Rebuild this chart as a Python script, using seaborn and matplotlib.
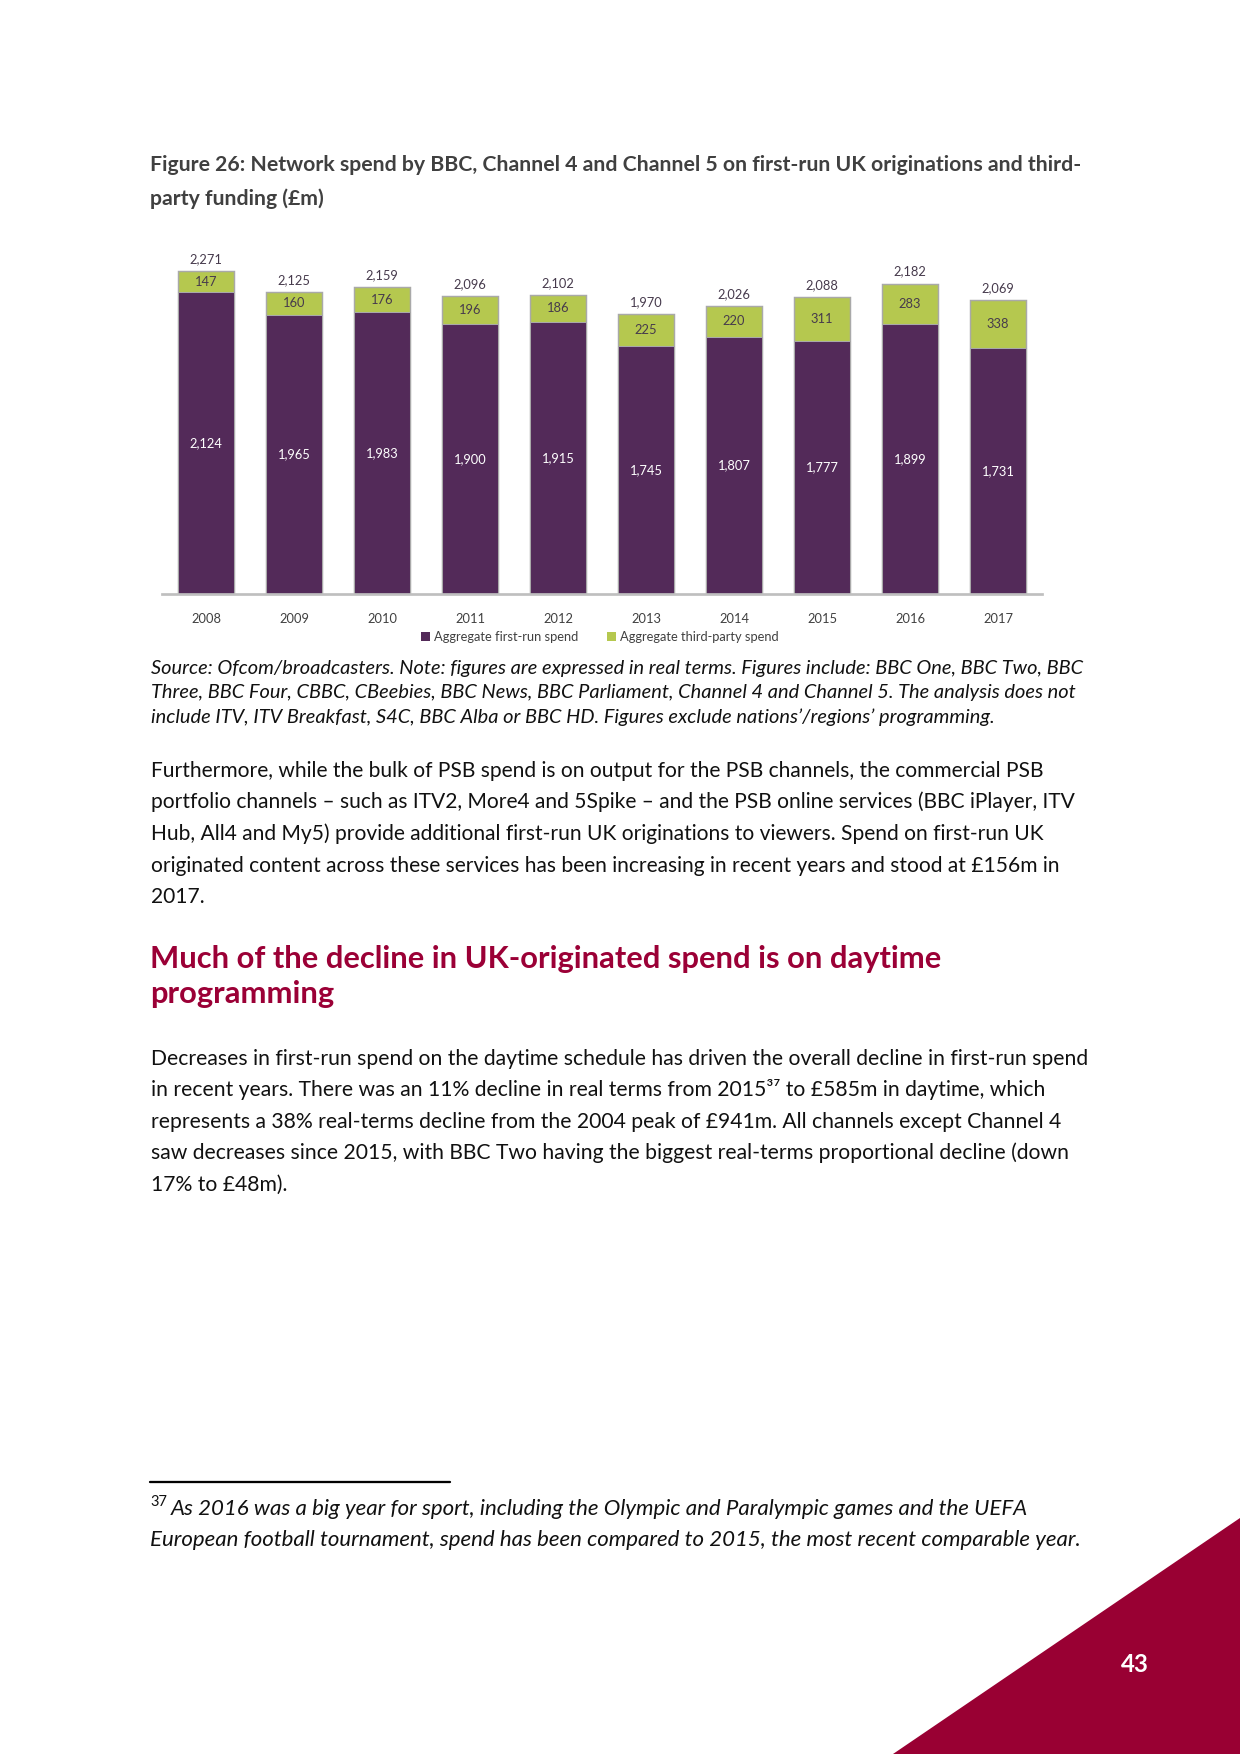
import matplotlib
matplotlib.use("Agg")
import matplotlib.pyplot as plt
import pandas as pd
import seaborn as sns
from matplotlib.patches import Patch, Polygon

W, H, DPI = 1240, 1754, 150

years = ["2008", "2009", "2010", "2011", "2012", "2013", "2014", "2015", "2016", "2017"]
first_run = [2124, 1965, 1983, 1900, 1915, 1745, 1807, 1777, 1899, 1731]
third_party = [147, 160, 176, 196, 186, 225, 220, 311, 283, 338]
totals = [2271, 2125, 2159, 2096, 2102, 1970, 2026, 2088, 2182, 2069]
legend_labels = ["Aggregate first-run spend", "Aggregate third-party spend"]

PURPLE = "#532A59"
GREEN = "#B5C84F"
CRIMSON = "#990033"

sns.set_theme(style="white")
plt.rcParams["font.family"] = ["Lato", "DejaVu Sans"]

fig = plt.figure(figsize=(W / DPI, H / DPI), dpi=DPI)
fig.patch.set_facecolor("white")


def px(x, y):
    return x / W, 1 - y / H


# chart ----------------------------------------------------------------
df = pd.DataFrame({"year": years, "first_run": first_run, "third_party": third_party})
df["stack_top"] = df["first_run"] + df["third_party"]

ymax = 2500
ax = fig.add_axes([162 / W, 1 - 594 / H, 880 / W, ymax * 0.1422 / H])
sns.barplot(data=df, x="year", y="stack_top", color=GREEN, width=0.64,
            edgecolor="#A9A9A9", linewidth=0.7, saturation=1, ax=ax)
sns.barplot(data=df, x="year", y="first_run", color=PURPLE, width=0.64,
            edgecolor="#A9A9A9", linewidth=0.5, saturation=1, ax=ax)
ax.set_xlim(-0.5, len(years) - 0.5)
ax.set_ylim(0, ymax)
ax.set_xlabel("")
ax.set_ylabel("")
ax.set_yticks([])
for s in ["left", "right", "top"]:
    ax.spines[s].set_visible(False)
ax.spines["bottom"].set_color("#BFBFBF")
ax.spines["bottom"].set_linewidth(1.3)
ax.tick_params(axis="x", length=0, pad=9, labelsize=6.2, labelcolor="#404040")

lab_col = "#463A4C"
for i, (fr, tp, tot) in enumerate(zip(first_run, third_party, totals)):
    ax.text(i, fr / 2, f"{fr:,}", ha="center", va="center", fontsize=6.2, color="white")
    ax.text(i, fr + tp / 2, f"{tp:,}", ha="center", va="center", fontsize=6.2, color=lab_col)
    ax.annotate(f"{tot:,}", (i, fr + tp), xytext=(0, 5.8), textcoords="offset points",
                ha="center", va="center", fontsize=6.2, color=lab_col)

handles = [Patch(facecolor=PURPLE, edgecolor="none"), Patch(facecolor=GREEN, edgecolor="none")]
ax.legend(handles, legend_labels, loc="center", bbox_to_anchor=px(600, 637),
          bbox_transform=fig.transFigure, ncol=2, frameon=False, fontsize=6.2,
          handlelength=0.7, handleheight=0.7, handletextpad=0.3, columnspacing=2.2,
          labelcolor="#404040")

# page text ------------------------------------------------------------
renderer = fig.canvas.get_renderer()


def block(lines, x0, baselines, right, size0=10, x_first=None, **kw):
    xs = [x0] * len(lines)
    if x_first is not None:
        xs[0] = x_first
    ref = kw.pop("ref", 0)
    t = fig.text(*px(xs[ref], baselines[ref]), lines[ref], fontsize=size0, va="baseline", **kw)
    w = t.get_window_extent(renderer).width
    size = size0 * (right - xs[ref]) / w
    t.set_fontsize(size)
    for k, (line, y) in enumerate(zip(lines, baselines)):
        if k == ref:
            continue
        fig.text(*px(xs[k], y), line, fontsize=size, va="baseline", **kw)
    return size


title_lines = [
    "Figure 26: Network spend by BBC, Channel 4 and Channel 5 on first-run UK originations and third-",
    "party funding (£m)",
]
source_lines = [
    "Source: Ofcom/broadcasters. Note: figures are expressed in real terms. Figures include: BBC One, BBC Two, BBC",
    "Three, BBC Four, CBBC, CBeebies, BBC News, BBC Parliament, Channel 4 and Channel 5. The analysis does not",
    "include ITV, ITV Breakfast, S4C, BBC Alba or BBC HD. Figures exclude nations’/regions’ programming.",
]
para1_lines = [
    "Furthermore, while the bulk of PSB spend is on output for the PSB channels, the commercial PSB",
    "portfolio channels – such as ITV2, More4 and 5Spike – and the PSB online services (BBC iPlayer, ITV",
    "Hub, All4 and My5) provide additional first-run UK originations to viewers. Spend on first-run UK",
    "originated content across these services has been increasing in recent years and stood at £156m in",
    "2017.",
]
heading_lines = [
    "Much of the decline in UK-originated spend is on daytime",
    "programming",
]
para2_lines = [
    "Decreases in first-run spend on the daytime schedule has driven the overall decline in first-run spend",
    "in recent years. There was an 11% decline in real terms from 2015³⁷ to £585m in daytime, which",
    "represents a 38% real-terms decline from the 2004 peak of £941m. All channels except Channel 4",
    "saw decreases since 2015, with BBC Two having the biggest real-terms proportional decline (down",
    "17% to £48m).",
]
foot_lines = [
    "As 2016 was a big year for sport, including the Olympic and Paralympic games and the UEFA",
    "European football tournament, spend has been compared to 2015, the most recent comparable year.",
]

block(title_lines, 150, [171, 205], 1085, fontweight="bold", color="#404040")
block(source_lines, 151, [674, 698, 723], 1087, fontstyle="italic", color="#111111")
body = block(para1_lines, 151, [777, 808, 840, 872, 903], 1047, color="#111111")
block(heading_lines, 150, [968, 1003], 943, fontweight="bold", color="#9B0036")
block(para2_lines, 151, [1065, 1096, 1128, 1159, 1191], 1087, color="#111111")

# footnote
fig.add_artist(plt.Line2D([150 / W, 450 / W], [1 - 1482 / H] * 2, color="black", lw=1.1))
fig.text(*px(150, 1506), "37", fontsize=7, va="baseline", color="#111111")
block(foot_lines, 150, [1515, 1546], 1084, x_first=171, ref=1,
      fontstyle="italic", color="#111111")

# corner triangle and page number
tri = Polygon([px(893, 1754), px(1240, 1518), px(1240, 1754)], closed=True,
              transform=fig.transFigure, facecolor=CRIMSON, edgecolor="none")
fig.add_artist(tri)
fig.text(*px(1135, 1672), "43", fontsize=11.5, fontweight="bold", color="white",
         ha="center", va="baseline")

fig.savefig("out.png", dpi=DPI, facecolor="white")
